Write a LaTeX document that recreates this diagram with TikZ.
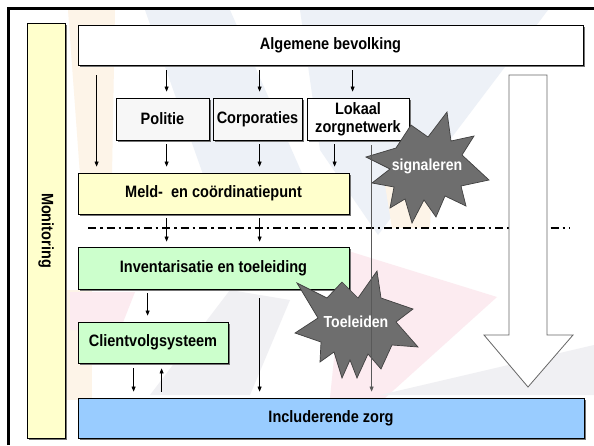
\documentclass[tikz,border=0pt]{standalone}
\usepackage{fontspec}
\setmainfont[FakeStretch=0.88]{Liberation Sans}
\usetikzlibrary{shadows,arrows.meta}
\definecolor{monY}{HTML}{FFFFCC}
\definecolor{grn}{HTML}{CCFFCC}
\definecolor{blu}{HTML}{99CCFF}
\definecolor{starG}{HTML}{6E6E6E}
\definecolor{wmBlue}{HTML}{EDF1F7}
\definecolor{wmOrange}{HTML}{FDF4E8}
\definecolor{wmPink}{HTML}{FCEBF0}
\definecolor{wmGray}{HTML}{F0F0F3}
\begin{document}
\begin{tikzpicture}[x=1pt,y=-1pt,
  box/.style={draw=black, line width=0.8pt, inner sep=0pt, align=center,
    font=\fontsize{16.5}{18}\selectfont\bfseries,
    drop shadow={shadow xshift=1.6pt, shadow yshift=-1.6pt, fill=black!55, opacity=1}},
  arr/.style={-{Triangle[length=5pt,width=4pt]}, line width=0.6pt},
  starshape/.style={fill=starG, draw=black!75, line width=0.7pt, line join=miter},
  startext/.style={text=white, font=\fontsize{16}{17}\selectfont\bfseries, inner sep=0pt}]
\useasboundingbox (0,0) rectangle (594,445);
\fill[white] (0,0) rectangle (594,445);
% faint watermark shapes
\fill[wmBlue] (145,10) -- (230,10) -- (305,180) -- (205,180) -- cycle;
\fill[wmBlue] (300,10) -- (548,10) -- (378,235) -- (320,150) -- cycle;
\fill[wmOrange] (68,10) -- (115,10) -- (112,175) -- (80,175) -- cycle;
\fill[wmOrange] (385,185) -- (432,185) -- (430,228) -- (392,228) -- cycle;
\fill[wmOrange] (62,290) -- (92,290) -- (92,400) -- (62,400) -- cycle;
\fill[wmPink] (345,250) -- (497,297) -- (385,398) -- (330,398) -- cycle;
\fill[wmPink] (70,292) -- (135,292) -- (120,330) -- (70,330) -- cycle;
\fill[wmGray] (150,395) -- (230,290) -- (290,300) -- (250,395) -- cycle;
\fill[wmGray] (380,395) -- (594,345) -- (594,395) -- cycle;
% outer frame
\draw[line width=3pt] (8,445) -- (8,8) -- (594,8);
% dash-dot separator
\draw[line width=1.6pt, dash pattern=on 8pt off 4pt on 2.5pt off 4pt] (88,228) -- (570,228);
% boxes
\node[box, fill=monY, minimum width=38pt, minimum height=415pt] (mon) at (46,230.5) {\rotatebox{-90}{Monitoring}};
\node[box, fill=white, minimum width=505pt, minimum height=40pt] (alg) at (330.5,45) {Algemene bevolking};
\node[box, fill=black!3, minimum width=93pt, minimum height=42pt] (pol) at (162.5,119) {Politie};
\node[box, fill=black!3, minimum width=89pt, minimum height=42pt] (corp) at (257.5,119) {Corporaties};
\node[box, fill=white, minimum width=102pt, minimum height=42pt] (lok) at (358,119) {Lokaal\\zorgnetwerk};
\node[box, fill=monY, minimum width=271pt, minimum height=41pt] (meld) at (213.5,193.5) {Meld-\ \ en co\"ordinatiepunt};
\node[box, fill=grn, minimum width=271pt, minimum height=42pt] (inv) at (213.5,268) {Inventarisatie en toeleiding};
\node[box, fill=grn, minimum width=150pt, minimum height=41pt] (cvs) at (153,342.5) {Clientvolgsysteem};
\node[box, fill=blu, minimum width=506pt, minimum height=40pt] (incl) at (331,418) {Includerende zorg};
% arrows
\draw[arr, shorten <=10pt, shorten >=6pt] ([xshift=19pt]alg.south west) -- ([xshift=19pt]meld.north west);
\draw[arr, shorten <=5pt, shorten >=6pt] ([xshift=89pt]alg.south west) -- ([xshift=51pt]pol.north west);
\draw[arr, shorten <=5pt, shorten >=6pt] ([xshift=182pt]alg.south west) -- ([xshift=47pt]corp.north west);
\draw[arr, shorten <=5pt, shorten >=6pt] ([xshift=275pt]alg.south west) -- ([xshift=46pt]lok.north west);
\draw[arr, shorten <=4pt, shorten >=6pt] ([xshift=51pt]pol.south west) -- ([xshift=89pt]meld.north west);
\draw[arr, shorten <=4pt, shorten >=6pt] ([xshift=47pt]corp.south west) -- ([xshift=182pt]meld.north west);
\draw[arr, shorten <=4pt, shorten >=6pt] ([xshift=28pt]lok.south west) -- ([xshift=257pt]meld.north west);
\draw[arr, shorten <=4pt, shorten >=5pt] ([xshift=89pt]meld.south west) -- ([xshift=89pt]inv.north west);
\draw[arr, shorten <=4pt, shorten >=5pt] ([xshift=182pt]meld.south west) -- ([xshift=182pt]inv.north west);
\draw[arr, shorten <=4pt, shorten >=6pt] ([xshift=70pt]inv.south west) -- ([xshift=70pt]cvs.north west);
\draw[arr, shorten <=9pt, shorten >=6pt] ([xshift=182pt]inv.south west) -- ([xshift=182pt]incl.north west);
\draw[arr, shorten <=5pt, shorten >=6pt] ([xshift=56pt]cvs.south west) -- ([xshift=56pt]incl.north west);
\draw[arr, shorten <=6pt, shorten >=5pt] ([xshift=84pt]incl.north west) -- ([xshift=84pt]cvs.south west);
% big downward arrow
\draw[fill=white, draw=black!60, line width=0.8pt, line join=miter]
  (509,75) -- (547,75) -- (547,335) -- (573,335) -- (528,387) -- (484,335) -- (509,335) -- cycle;
% starbursts
\draw[starshape] (447,112) -- (451,141) -- (474,136) -- (462,155) -- (489,180) -- (461,186)
  -- (466,206) -- (445,196) -- (436,217) -- (424,200) -- (412,223) -- (405,199)
  -- (390,208) -- (394,187) -- (372,183) -- (390,169) -- (366,157) -- (396,148)
  -- (411,125) -- (428,137) -- cycle;
\node[startext] (sig) at (427,166) {signaleren};
\draw[starshape] (377,271) -- (381,298) -- (413,309) -- (396,322) -- (418,347) -- (392,345)
  -- (381,369) -- (368,354) -- (357,378) -- (350,360) -- (342,378) -- (334,352)
  -- (320,362) -- (321,342) -- (295,333) -- (318,318) -- (297,283) -- (327,298)
  -- (342,282) -- (358,298) -- cycle;
\node[startext] (toe) at (356,322) {Toeleiden};
% long line from Lokaal zorgnetwerk to Includerende zorg
\draw[arr, draw=black!65, fill=black, shorten <=5pt, shorten >=6pt] ([xshift=65pt]lok.south west) -- ([xshift=294pt]incl.north west);
\end{tikzpicture}
\end{document}
